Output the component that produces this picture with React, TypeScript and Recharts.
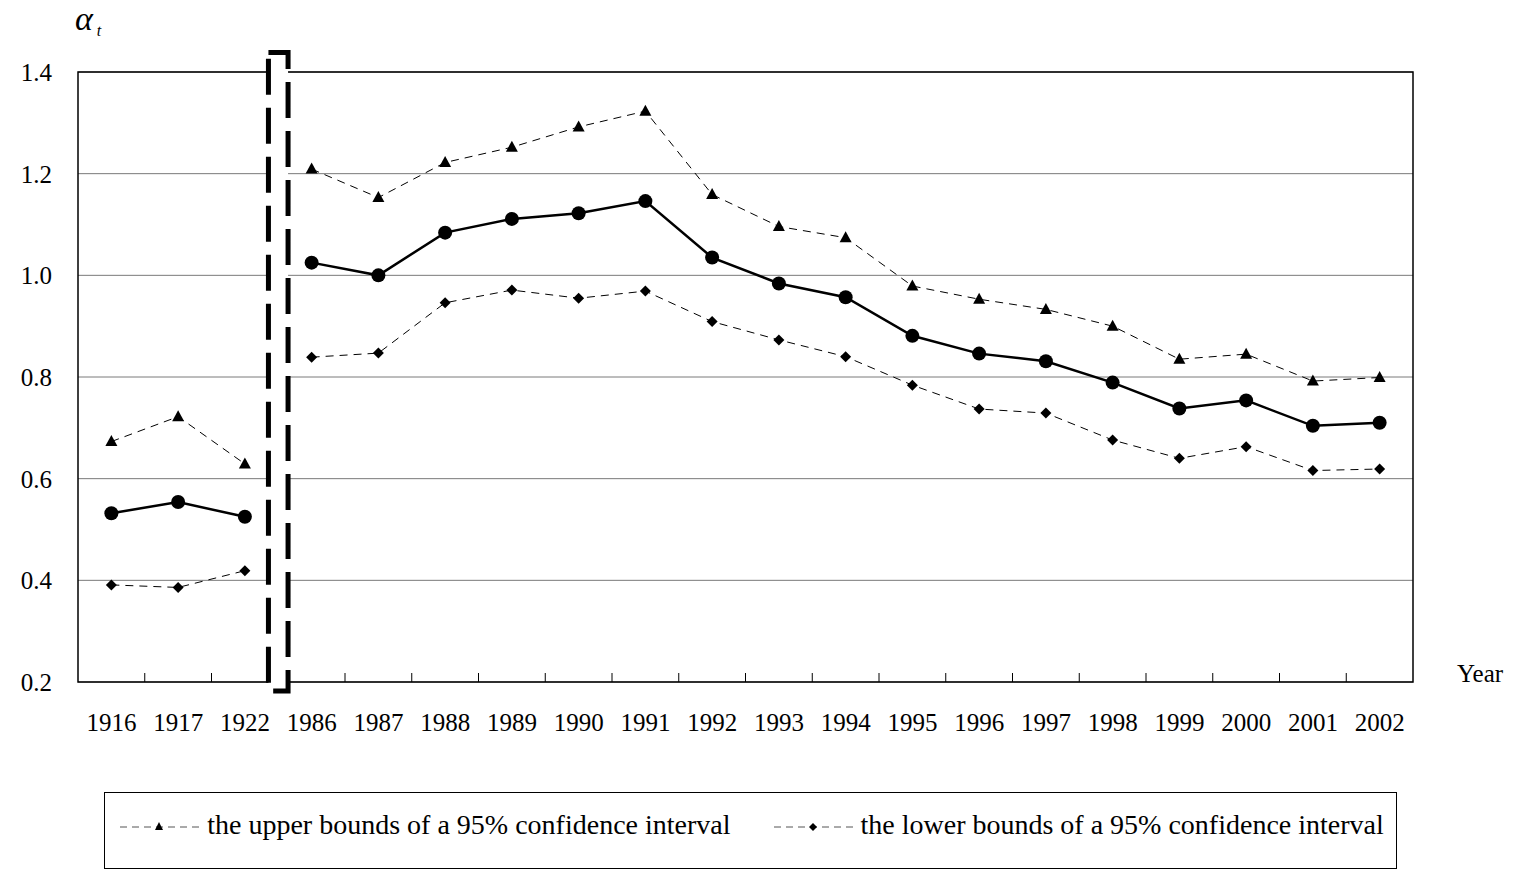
import React from "react";
import {
  LineChart,
  Line,
  XAxis,
  YAxis,
  CartesianGrid,
  ReferenceLine,
  ReferenceArea,
  Legend,
} from "recharts";

if (typeof document !== "undefined") {
  document.body.style.margin = "0";
}

// ---------- data ----------
const years = [
  "1916", "1917", "1922", "1986", "1987", "1988", "1989", "1990", "1991", "1992",
  "1993", "1994", "1995", "1996", "1997", "1998", "1999", "2000", "2001", "2002",
];
const alphaValues = [
  0.532, 0.554, 0.525, 1.025, 1.0, 1.084, 1.111, 1.122, 1.146, 1.035,
  0.984, 0.957, 0.881, 0.846, 0.831, 0.789, 0.738, 0.754, 0.704, 0.71,
];
const upperValues = [
  0.673, 0.722, 0.629, 1.209, 1.153, 1.222, 1.252, 1.292, 1.323, 1.159,
  1.096, 1.074, 0.979, 0.953, 0.933, 0.9, 0.835, 0.845, 0.792, 0.799,
];
const lowerValues = [
  0.391, 0.386, 0.419, 0.839, 0.847, 0.946, 0.971, 0.955, 0.969, 0.909,
  0.873, 0.84, 0.784, 0.737, 0.729, 0.676, 0.64, 0.663, 0.616, 0.619,
];
const yTicks = [0.2, 0.4, 0.6, 0.8, 1.0, 1.2, 1.4];
const breakIndex = 3; // series break between 1922 and 1986
const legendItems = [
  { key: "upper", label: "the upper bounds of a 95% confidence interval", shape: "triangle" },
  { key: "lower", label: "the lower bounds of a 95% confidence interval", shape: "diamond" },
];

// ---------- layout ----------
const W = 1515;
const H = 880;
const FONT = '"Liberation Serif", "Times New Roman", serif';
const Y_MIN = 0.2;
const Y_MAX = 1.4;
const PLOT_TOP = 72;
const PLOT_BOTTOM = 682;
const PLOT_H = PLOT_BOTTOM - PLOT_TOP;
const X_AXIS_H = 60;
const pxToVal = (px: number) => ((Y_MAX - Y_MIN) * px) / PLOT_H;

const data = years.map((y, i) => ({
  pos: i + 0.5,
  year: y,
  alphaE: i < breakIndex ? alphaValues[i] : null,
  alphaL: i >= breakIndex ? alphaValues[i] : null,
  upperE: i < breakIndex ? upperValues[i] : null,
  upperL: i >= breakIndex ? upperValues[i] : null,
  lowerE: i < breakIndex ? lowerValues[i] : null,
  lowerL: i >= breakIndex ? lowerValues[i] : null,
}));
const xTicks = years.map((_, i) => i + 0.5);
const boundaries = years.slice(1).map((_, i) => i + 1).filter((b) => b !== breakIndex);

const renderTriangle = (props: any) => {
  const { cx, cy, index } = props;
  if (cx == null || cy == null) return <g key={`t${index}`} />;
  return (
    <path
      key={`t${index}`}
      d={`M${cx},${cy - 6.5} L${cx + 6},${cy + 4.5} L${cx - 6},${cy + 4.5} Z`}
      fill="#000"
      stroke="none"
    />
  );
};
const renderDiamond = (props: any) => {
  const { cx, cy, index } = props;
  if (cx == null || cy == null) return <g key={`d${index}`} />;
  return (
    <path
      key={`d${index}`}
      d={`M${cx},${cy - 5.5} L${cx + 5.5},${cy} L${cx},${cy + 5.5} L${cx - 5.5},${cy} Z`}
      fill="#000"
      stroke="none"
    />
  );
};
const renderCircle = (props: any) => {
  const { cx, cy, index } = props;
  if (cx == null || cy == null) return <g key={`c${index}`} />;
  return <circle key={`c${index}`} cx={cx} cy={cy} r={7} fill="#000" stroke="none" />;
};

const LegendSample = ({ shape }: { shape: string }) => (
  <svg width={84} height={20} style={{ display: "block" }}>
    <line x1={0} y1={11} x2={84} y2={11} stroke="#555" strokeWidth={1} strokeDasharray="7 5" strokeDashoffset={-3} />
    {shape === "triangle" ? (
      <path d="M42,6 L46,14 L38,14 Z" fill="#000" />
    ) : (
      <path d="M42,7 L46,11 L42,15 L38,11 Z" fill="#000" />
    )}
  </svg>
);

const renderLegend = () => (
  <div
    style={{
      width: 1293,
      height: 77,
      border: "1px solid #000",
      boxSizing: "border-box",
      display: "flex",
      justifyContent: "center",
      alignItems: "flex-start",
      paddingTop: 18,
      fontFamily: FONT,
      fontSize: 28,
      lineHeight: 1,
      color: "#000",
      background: "#fff",
    }}
  >
    {legendItems.map((it, i) => (
      <div key={it.key} style={{ display: "flex", alignItems: "center", marginLeft: i === 0 ? 0 : 40 }}>
        <div style={{ paddingTop: 2 }}>
          <LegendSample shape={it.shape} />
        </div>
        <span style={{ marginLeft: 6, whiteSpace: "nowrap" }}>{it.label}</span>
      </div>
    ))}
  </div>
);

export default function App() {
  return (
    <div style={{ position: "relative", width: W, height: H, overflow: "hidden", background: "#fff", fontFamily: FONT }}>
      <LineChart
        width={W}
        height={H}
        data={data}
        margin={{ top: PLOT_TOP, right: 102, left: 0, bottom: H - PLOT_BOTTOM - X_AXIS_H }}
      >
        <CartesianGrid horizontal vertical={false} stroke="#7a7a7a" strokeWidth={1} />
        <XAxis
          dataKey="pos"
          type="number"
          domain={[0, years.length]}
          ticks={xTicks}
          interval={0}
          allowDataOverflow
          height={X_AXIS_H}
          axisLine={false}
          tickLine={false}
          tickSize={0}
          tickMargin={31}
          tickFormatter={(v: number) => years[Math.floor(v)]}
          tick={{ fill: "#000", fontSize: 25, fontFamily: FONT }}
        />
        <YAxis
          type="number"
          domain={[Y_MIN, Y_MAX]}
          ticks={yTicks}
          interval={0}
          allowDataOverflow
          width={78}
          axisLine={false}
          tickLine={false}
          tickSize={0}
          tickMargin={26}
          tickFormatter={(v: number) => v.toFixed(1)}
          tick={{ fill: "#000", fontSize: 25, fontFamily: FONT }}
        />
        <ReferenceArea
          x1={0}
          x2={years.length}
          y1={Y_MIN}
          y2={Y_MAX}
          fill="none"
          stroke="#000"
          strokeWidth={1.5}
          ifOverflow="visible"
        />
        {boundaries.map((b) => (
          <ReferenceLine
            key={`b${b}`}
            segment={[
              { x: b, y: Y_MIN },
              { x: b, y: Y_MIN + pxToVal(9) },
            ]}
            stroke="#000"
            strokeWidth={1}
          />
        ))}
        <Line dataKey="upperE" stroke="#000" strokeWidth={1} strokeDasharray="8 6" dot={renderTriangle} activeDot={false} isAnimationActive={false} legendType="none" />
        <Line dataKey="upperL" stroke="#000" strokeWidth={1} strokeDasharray="8 6" dot={renderTriangle} activeDot={false} isAnimationActive={false} legendType="none" />
        <Line dataKey="lowerE" stroke="#000" strokeWidth={1} strokeDasharray="8 6" dot={renderDiamond} activeDot={false} isAnimationActive={false} legendType="none" />
        <Line dataKey="lowerL" stroke="#000" strokeWidth={1} strokeDasharray="8 6" dot={renderDiamond} activeDot={false} isAnimationActive={false} legendType="none" />
        <Line dataKey="alphaE" stroke="#000" strokeWidth={2.5} dot={renderCircle} activeDot={false} isAnimationActive={false} legendType="none" />
        <Line dataKey="alphaL" stroke="#000" strokeWidth={2.5} dot={renderCircle} activeDot={false} isAnimationActive={false} legendType="none" />
        <ReferenceArea
          x1={breakIndex - 0.147}
          x2={breakIndex + 0.147}
          y1={Y_MIN - pxToVal(9)}
          y2={Y_MAX + pxToVal(19.5)}
          fill="#fff"
          fillOpacity={1}
          stroke="#000"
          strokeWidth={5}
          strokeDasharray="36 13"
          ifOverflow="visible"
        />
        <Legend
          layout="vertical"
          align="center"
          verticalAlign="middle"
          content={renderLegend}
          wrapperStyle={{ position: "absolute", left: 104, top: 792, width: 1293, height: 77 }}
        />
      </LineChart>

      <div
        style={{
          position: "absolute",
          left: 75,
          top: 6,
          height: 30,
          fontFamily: FONT,
          fontStyle: "italic",
          fontSize: 34,
          lineHeight: "26px",
          color: "#000",
          whiteSpace: "nowrap",
        }}
      >
        α
        <span style={{ fontSize: 16, position: "relative", top: 6, marginLeft: 4 }}>t</span>
      </div>
      <div
        style={{
          position: "absolute",
          left: 1457,
          top: 661,
          fontFamily: FONT,
          fontSize: 25,
          lineHeight: 1,
          color: "#000",
        }}
      >
        Year
      </div>
    </div>
  );
}
